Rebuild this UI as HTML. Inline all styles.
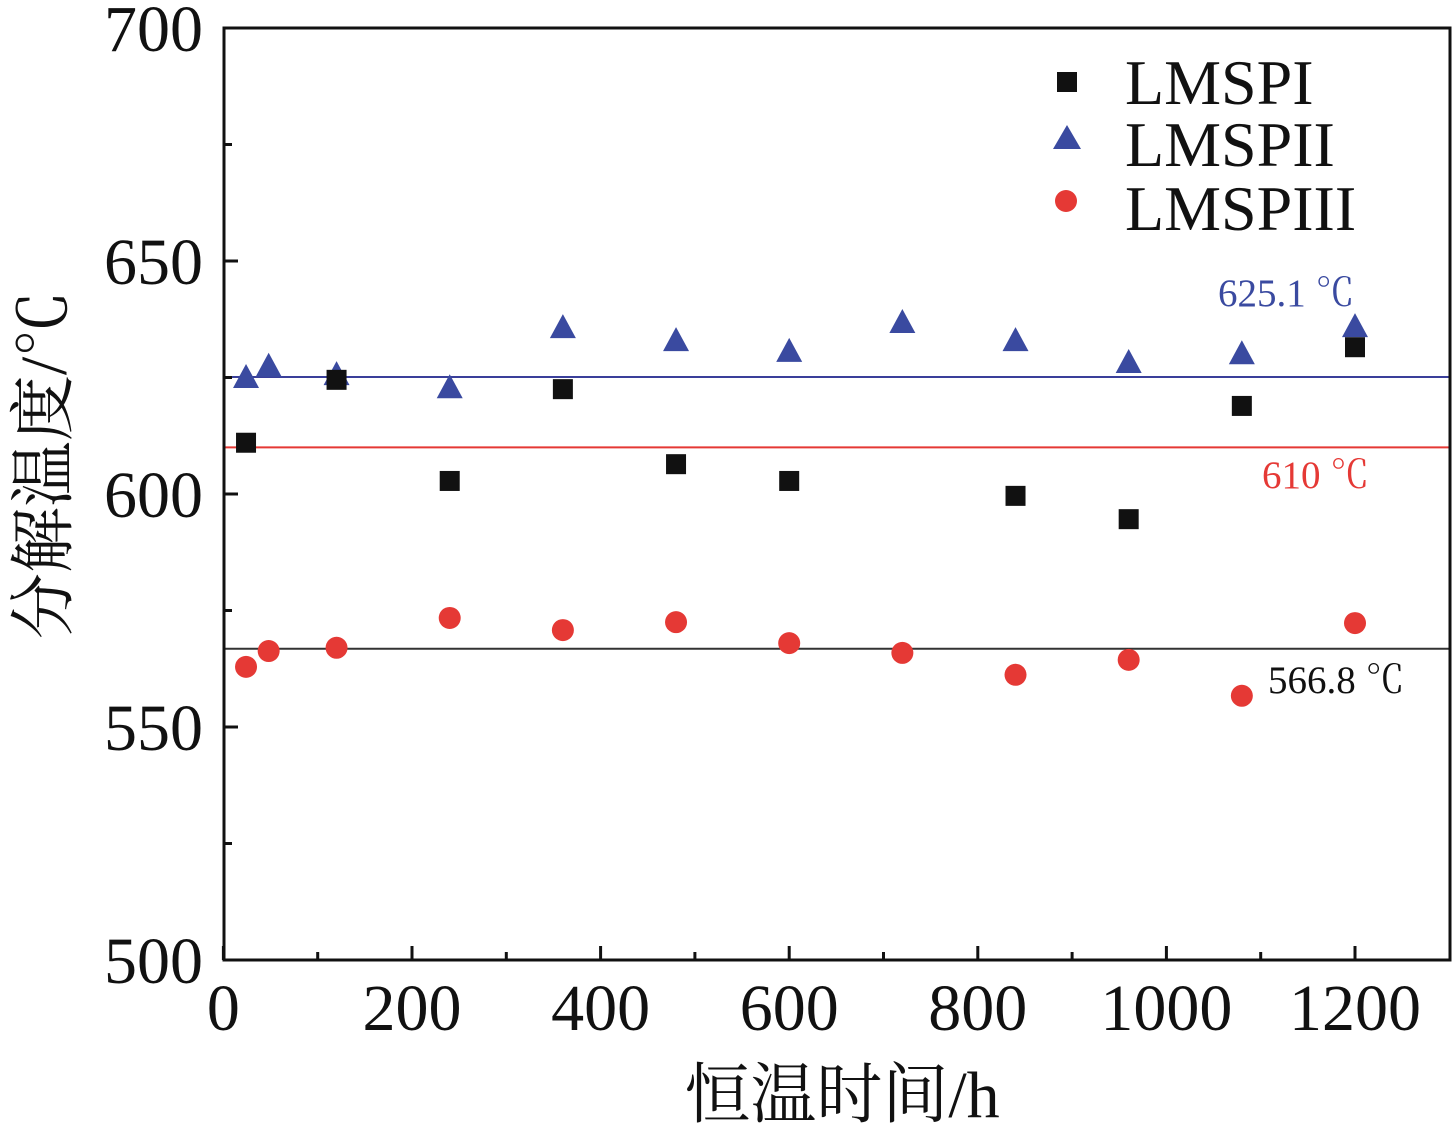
<!DOCTYPE html>
<html><head><meta charset="utf-8">
<style>
body{margin:0;background:#fff;}
svg{display:block;font-family:"Liberation Serif","Noto Serif CJK SC",serif;}
</style></head>
<body>
<svg id="chart" width="1456" height="1127" viewBox="0 0 1456 1127" xmlns="http://www.w3.org/2000/svg">
<g id="plot"></g>
</svg>
<script>
const xTicks=[0,200,400,600,800,1000,1200];
const yTicks=[500,550,600,650,700];
const xMinor=[100,300,500,700,900,1100];
const yMinor=[525,575,625,675];
const seriesIX=[24,120,240,360,480,600,840,960,1080,1200];
const seriesIY=[611,624.5,602.8,622.5,606.4,602.8,599.6,594.6,618.9,631.5];
const seriesIIX=[24,48,120,240,360,480,600,720,840,960,1080,1200];
const seriesIIY=[624.9,627.3,625.5,622.7,635.6,632.8,630.5,636.7,632.8,628.1,630,635.8];
const seriesIIIX=[24,48,120,240,360,480,600,720,840,960,1080,1200];
const seriesIIIY=[562.9,566.3,567,573.4,570.8,572.5,568,565.9,561.2,564.4,556.7,572.3];
const refValues=[625.1,610,566.8];
const refLabels=["625.1 ℃","610 ℃","566.8 ℃"];

const L=224,R=1450,T=28,B=960;
const sx=v=>223.4+v*0.943;
const sy=v=>960-(v-500)*4.66;
const NS="http://www.w3.org/2000/svg";
const g=document.getElementById('plot');
function mk(tag,a,parent){const e=document.createElementNS(NS,tag);for(const k in a)e.setAttribute(k,a[k]);(parent||g).appendChild(e);return e;}

const refColors=["#3a3f9a","#e53935","#333"];
const refLabelPos=[[1218,306,"#3a4aa0"],[1262,488,"#e53935"],[1268,693,"#111"]];
refValues.forEach((v,i)=>{
  const l=mk('line',{x1:L,x2:R,y1:sy(v),y2:sy(v),stroke:refColors[i],'stroke-width':2});
  
  
  const t=mk('text',{x:refLabelPos[i][0],y:refLabelPos[i][1],fill:refLabelPos[i][2],'font-size':39});
  t.textContent=refLabels[i];
  
  
});

const f=mk('rect',{x:L,y:T,width:R-L,height:B-T,fill:'none',stroke:'#111','stroke-width':3});



xTicks.forEach(v=>{
  mk('line',{x1:sx(v),x2:sx(v),y1:B,y2:B-14,stroke:'#111','stroke-width':3});
  const t=mk('text',{x:sx(v),y:1030,'font-size':66,'text-anchor':'middle',fill:'#111'});
  t.textContent=v;
  
  
});
xMinor.forEach(v=>mk('line',{x1:sx(v),x2:sx(v),y1:B,y2:B-8,stroke:'#111','stroke-width':3}));
yTicks.forEach(v=>{
  mk('line',{x1:L,x2:L+14,y1:sy(v),y2:sy(v),stroke:'#111','stroke-width':3});
  const t=mk('text',{x:203,y:sy(v)+23,'font-size':66,'text-anchor':'end',fill:'#111'});
  t.textContent=v;
  
  
});
yMinor.forEach(v=>mk('line',{x1:L,x2:L+8,y1:sy(v),y2:sy(v),stroke:'#111','stroke-width':3}));

seriesIIX.forEach((x,i)=>{
  const cx=sx(x),cy=sy(seriesIIY[i]);
  const p=mk('polygon',{points:`${cx},${cy-14} ${cx-13},${cy+10} ${cx+13},${cy+10}`,fill:'#3a4aa0'});
  
  
});
seriesIX.forEach((x,i)=>{
  const r=mk('rect',{x:sx(x)-10,y:sy(seriesIY[i])-10,width:20,height:20,fill:'#111'});
  
  
});
seriesIIIX.forEach((x,i)=>{
  const c=mk('circle',{cx:sx(x),cy:sy(seriesIIIY[i]),r:11,fill:'#e53935'});
  
  
});

const lg=mk('g',{});


mk('rect',{x:1057,y:72,width:20,height:20,fill:'#111'},lg);
mk('polygon',{points:'1067,125 1053,149 1081,149',fill:'#3a4aa0'},lg);
mk('circle',{cx:1066,cy:201,r:11,fill:'#e53935'},lg);
[["LMSPI",104],["LMSPII",166],["LMSPIII",230]].forEach(([s,y])=>{
  const t=mk('text',{x:1125,y:y,'font-size':64,fill:'#111'},lg);
  t.textContent=s;
  
  
});

const xt=mk('text',{x:842,y:1117,'font-size':66,'text-anchor':'middle',fill:'#111'});
xt.textContent='恒温时间/h';


const yt=mk('text',{x:0,y:0,'font-size':66,'text-anchor':'middle',fill:'#111',transform:'translate(66,465) rotate(-90)'});
yt.textContent='分解温度/℃';


</script>
</body></html>
